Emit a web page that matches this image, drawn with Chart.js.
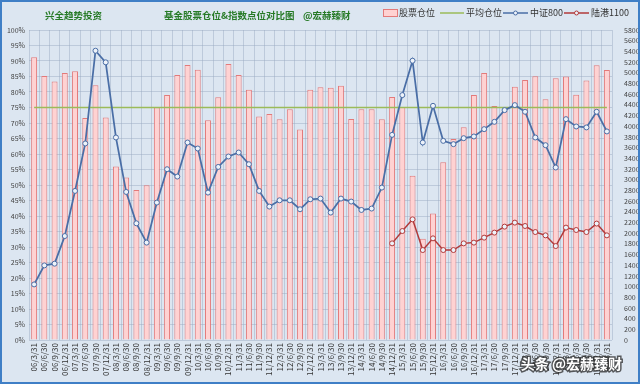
<!DOCTYPE html>
<html>
<head>
<meta charset="utf-8">
<script src="https://cdn.jsdelivr.net/npm/chart.js@4.4.0/dist/chart.umd.min.js"></script>
<style>
	html, body { margin: 0; padding: 0; background: #fff; }
	canvas { display: block; }
</style>
</head>
<body>
<canvas id="myChart" width="640" height="384"></canvas>
<script>
/* Data. */
const quarters = [
	'06/3/31', '06/6/30', '06/9/30', '06/12/31', '07/3/31', '07/6/30', '07/9/30', '07/12/31',
	'08/3/31', '08/6/30', '08/9/30', '08/12/31', '09/3/31', '09/6/30', '09/9/30', '09/12/31',
	'10/3/31', '10/6/30', '10/9/30', '10/12/31', '11/3/31', '11/6/30', '11/9/30', '11/12/31',
	'12/3/31', '12/6/30', '12/9/30', '12/12/31', '13/3/31', '13/6/30', '13/9/30', '13/12/31',
	'14/3/31', '14/6/30', '14/9/30', '14/12/31', '15/3/31', '15/6/30', '15/9/30', '15/12/31',
	'16/3/31', '16/6/30', '16/9/30', '16/12/31', '17/3/31', '17/6/30', '17/9/30', '17/12/31',
	'18/3/31', '18/6/30', '18/9/30', '18/12/31', '19/3/31', '19/6/30', '19/9/30', '19/12/31',
	'20/3/31'
];

// 股票仓位 (%)
const stockPosition = [
	91.2, 85.2, 83.4, 86.1, 86.7, 71.6, 82.2, 71.8, 56.0, 52.4,
	48.4, 49.9, 75.1, 79.0, 85.5, 88.7, 87.2, 70.9, 78.3, 89.0,
	85.5, 80.7, 72.1, 72.9, 71.2, 74.4, 67.9, 80.7, 81.5, 81.4,
	82.0, 71.3, 74.4, 74.4, 71.2, 78.4, 75.2, 53.0, 32.7, 40.8,
	57.3, 64.8, 68.6, 79.0, 86.1, 75.5, 73.9, 81.7, 83.9, 85.1,
	77.7, 84.4, 85.0, 79.1, 83.7, 88.6, 87.1
];

// 平均仓位 (%)
const averagePosition = 75;

// 中证800
const csi800 = [
	1040, 1396, 1428, 1945, 2789, 3677, 5412, 5195, 3789, 2770,
	2183, 1822, 2571, 3195, 3058, 3695, 3583, 2758, 3238, 3433,
	3508, 3289, 2789, 2496, 2614, 2614, 2446, 2633, 2646, 2384,
	2646, 2590, 2433, 2459, 2852, 3838, 4582, 5225, 3695, 4381,
	3726, 3664, 3776, 3808, 3945, 4082, 4301, 4395, 4270, 3789,
	3645, 3227, 4132, 3995, 3977, 4270, 3902
];

// 陆港1100 (starts 14/12/31)
const lugang1100 = [
	null, null, null, null, null, null, null, null, null, null,
	null, null, null, null, null, null, null, null, null, null,
	null, null, null, null, null, null, null, null, null, null,
	null, null, null, null, null, 1808, 2039, 2258, 1683, 1902,
	1683, 1683, 1808, 1822, 1915, 2009, 2121, 2196, 2133, 2020,
	1958, 1758, 2103, 2058, 2020, 2178, 1958
];

// Colors
const bgColor = '#dce6f1';
const frameColor = '#3f7fc6';
const gridColor = 'rgba(150, 168, 192, 0.45)';
const barFill = '#ffd2d2';
const barBorder = '#e37a7a';
const avgColor = '#9bbb59';
const blueColor = '#4a6ea6';
const redColor = '#b23a3a';
const markerFill = '#eef3fa';
const titleGreen = '#267a26';
const fontFamily = "'Noto Sans CJK SC', 'Liberation Sans', sans-serif";

/* Titles, legend, frame and watermark drawn on the canvas. */
const decorPlugin = {
	id: 'decor',
	beforeDraw(chart) {
		const ctx = chart.ctx;
		ctx.save();
		ctx.fillStyle = bgColor;
		ctx.fillRect(0, 0, chart.width, chart.height);
		ctx.restore();
	},
	afterDraw(chart) {
		const ctx = chart.ctx;
		ctx.save();

		// frame
		ctx.strokeStyle = frameColor;
		ctx.lineWidth = 2;
		ctx.strokeRect(1, 1, chart.width - 2, chart.height - 2);

		// titles
		ctx.fillStyle = titleGreen;
		ctx.textBaseline = 'middle';
		ctx.font = 'bold 9.5px ' + fontFamily;
		ctx.fillText('兴全趋势投资', 45, 15);
		ctx.fillText('基金股票仓位&指数点位对比图', 164, 15);
		ctx.fillText('@宏赫臻财', 303, 15);

		// legend
		const ly = 13;
		ctx.font = '9px ' + fontFamily;
		ctx.fillStyle = barFill;
		ctx.strokeStyle = barBorder;
		ctx.lineWidth = 1;
		ctx.fillRect(383.5, 9.5, 14, 7);
		ctx.strokeRect(383.5, 9.5, 14, 7);
		ctx.fillStyle = '#333';
		ctx.fillText('股票仓位', 399, ly);

		ctx.strokeStyle = avgColor;
		ctx.lineWidth = 1.5;
		ctx.beginPath();
		ctx.moveTo(440, ly);
		ctx.lineTo(464, ly);
		ctx.stroke();
		ctx.fillText('平均仓位', 466, ly);

		const lineItem = (x0, color, text) => {
			ctx.strokeStyle = color;
			ctx.lineWidth = 1.5;
			ctx.beginPath();
			ctx.moveTo(x0, ly);
			ctx.lineTo(x0 + 25, ly);
			ctx.stroke();
			ctx.fillStyle = markerFill;
			ctx.lineWidth = 1;
			ctx.beginPath();
			ctx.arc(x0 + 12.5, ly, 2, 0, Math.PI * 2);
			ctx.fill();
			ctx.stroke();
			ctx.fillStyle = '#333';
			ctx.fillText(text, x0 + 27, ly);
		};
		lineItem(503, blueColor, '中证800');
		lineItem(564, redColor, '陆港1100');

		// watermark
		ctx.font = 'bold 14px ' + fontFamily;
		ctx.textAlign = 'right';
		ctx.lineWidth = 3;
		ctx.strokeStyle = 'rgba(40, 40, 40, 0.75)';
		ctx.strokeText('头条 @宏赫臻财', 622, 364);
		ctx.fillStyle = '#fff';
		ctx.fillText('头条 @宏赫臻财', 622, 364);

		ctx.restore();
	},
};

const chartContainer = document.getElementById('myChart').getContext('2d');
Chart.defaults.font.family = fontFamily;

const chartConfig = {
	type: 'bar',
	data: {
		labels: quarters,
		datasets: [
			{
				type: 'line',
				label: '中证800',
				data: csi800,
				yAxisID: 'y1',
				borderColor: blueColor,
				borderWidth: 1.75,
				pointRadius: 2.5,
				pointBackgroundColor: markerFill,
				pointBorderColor: blueColor,
				pointBorderWidth: 1,
				tension: 0,
				order: 1,
			},
			{
				type: 'line',
				label: '陆港1100',
				data: lugang1100,
				yAxisID: 'y1',
				borderColor: redColor,
				borderWidth: 1.5,
				pointRadius: 2.5,
				pointBackgroundColor: markerFill,
				pointBorderColor: redColor,
				pointBorderWidth: 1,
				tension: 0,
				order: 2,
			},
			{
				type: 'line',
				label: '平均仓位',
				data: quarters.map(() => averagePosition),
				yAxisID: 'y',
				borderColor: avgColor,
				borderWidth: 1.5,
				pointRadius: 0,
				order: 3,
			},
			{
				label: '股票仓位',
				data: stockPosition,
				yAxisID: 'y',
				backgroundColor: barFill,
				borderColor: barBorder,
				borderWidth: 1,
				barPercentage: 0.58,
				categoryPercentage: 1,
				order: 4,
			},
		],
	},
	options: {
		responsive: false,
		animation: false,
		layout: {
			padding: { top: 30, left: 0, right: 0, bottom: 0 },
		},
		scales: {
			x: {
				offset: true,
				grid: { color: gridColor, offset: true, drawTicks: false },
				border: { display: false },
				ticks: {
					autoSkip: false,
					minRotation: 90,
					maxRotation: 90,
					padding: 3,
					color: '#333',
					font: { size: 8 },
				},
				afterFit: (scale) => { scale.height = 44; },
			},
			y: {
				position: 'left',
				min: 0,
				max: 100,
				grid: { color: gridColor, drawTicks: false },
				border: { display: false },
				ticks: {
					stepSize: 5,
					autoSkip: false,
					padding: 4,
					color: '#444',
					font: { size: 7 },
					callback: (v) => v + '%',
				},
				afterFit: (scale) => { scale.width = 29; },
			},
			y1: {
				position: 'right',
				min: 0,
				max: 5800,
				grid: { display: false },
				border: { display: false },
				ticks: {
					stepSize: 200,
					autoSkip: false,
					padding: 4,
					color: '#444',
					font: { size: 7 },
					callback: (v) => String(v),
				},
				afterFit: (scale) => { scale.width = 28; },
			},
		},
		plugins: {
			legend: { display: false },
			tooltip: { enabled: false },
		},
	},
	plugins: [decorPlugin],
};

const myChart = new Chart(chartContainer, chartConfig);
</script>
</body>
</html>
